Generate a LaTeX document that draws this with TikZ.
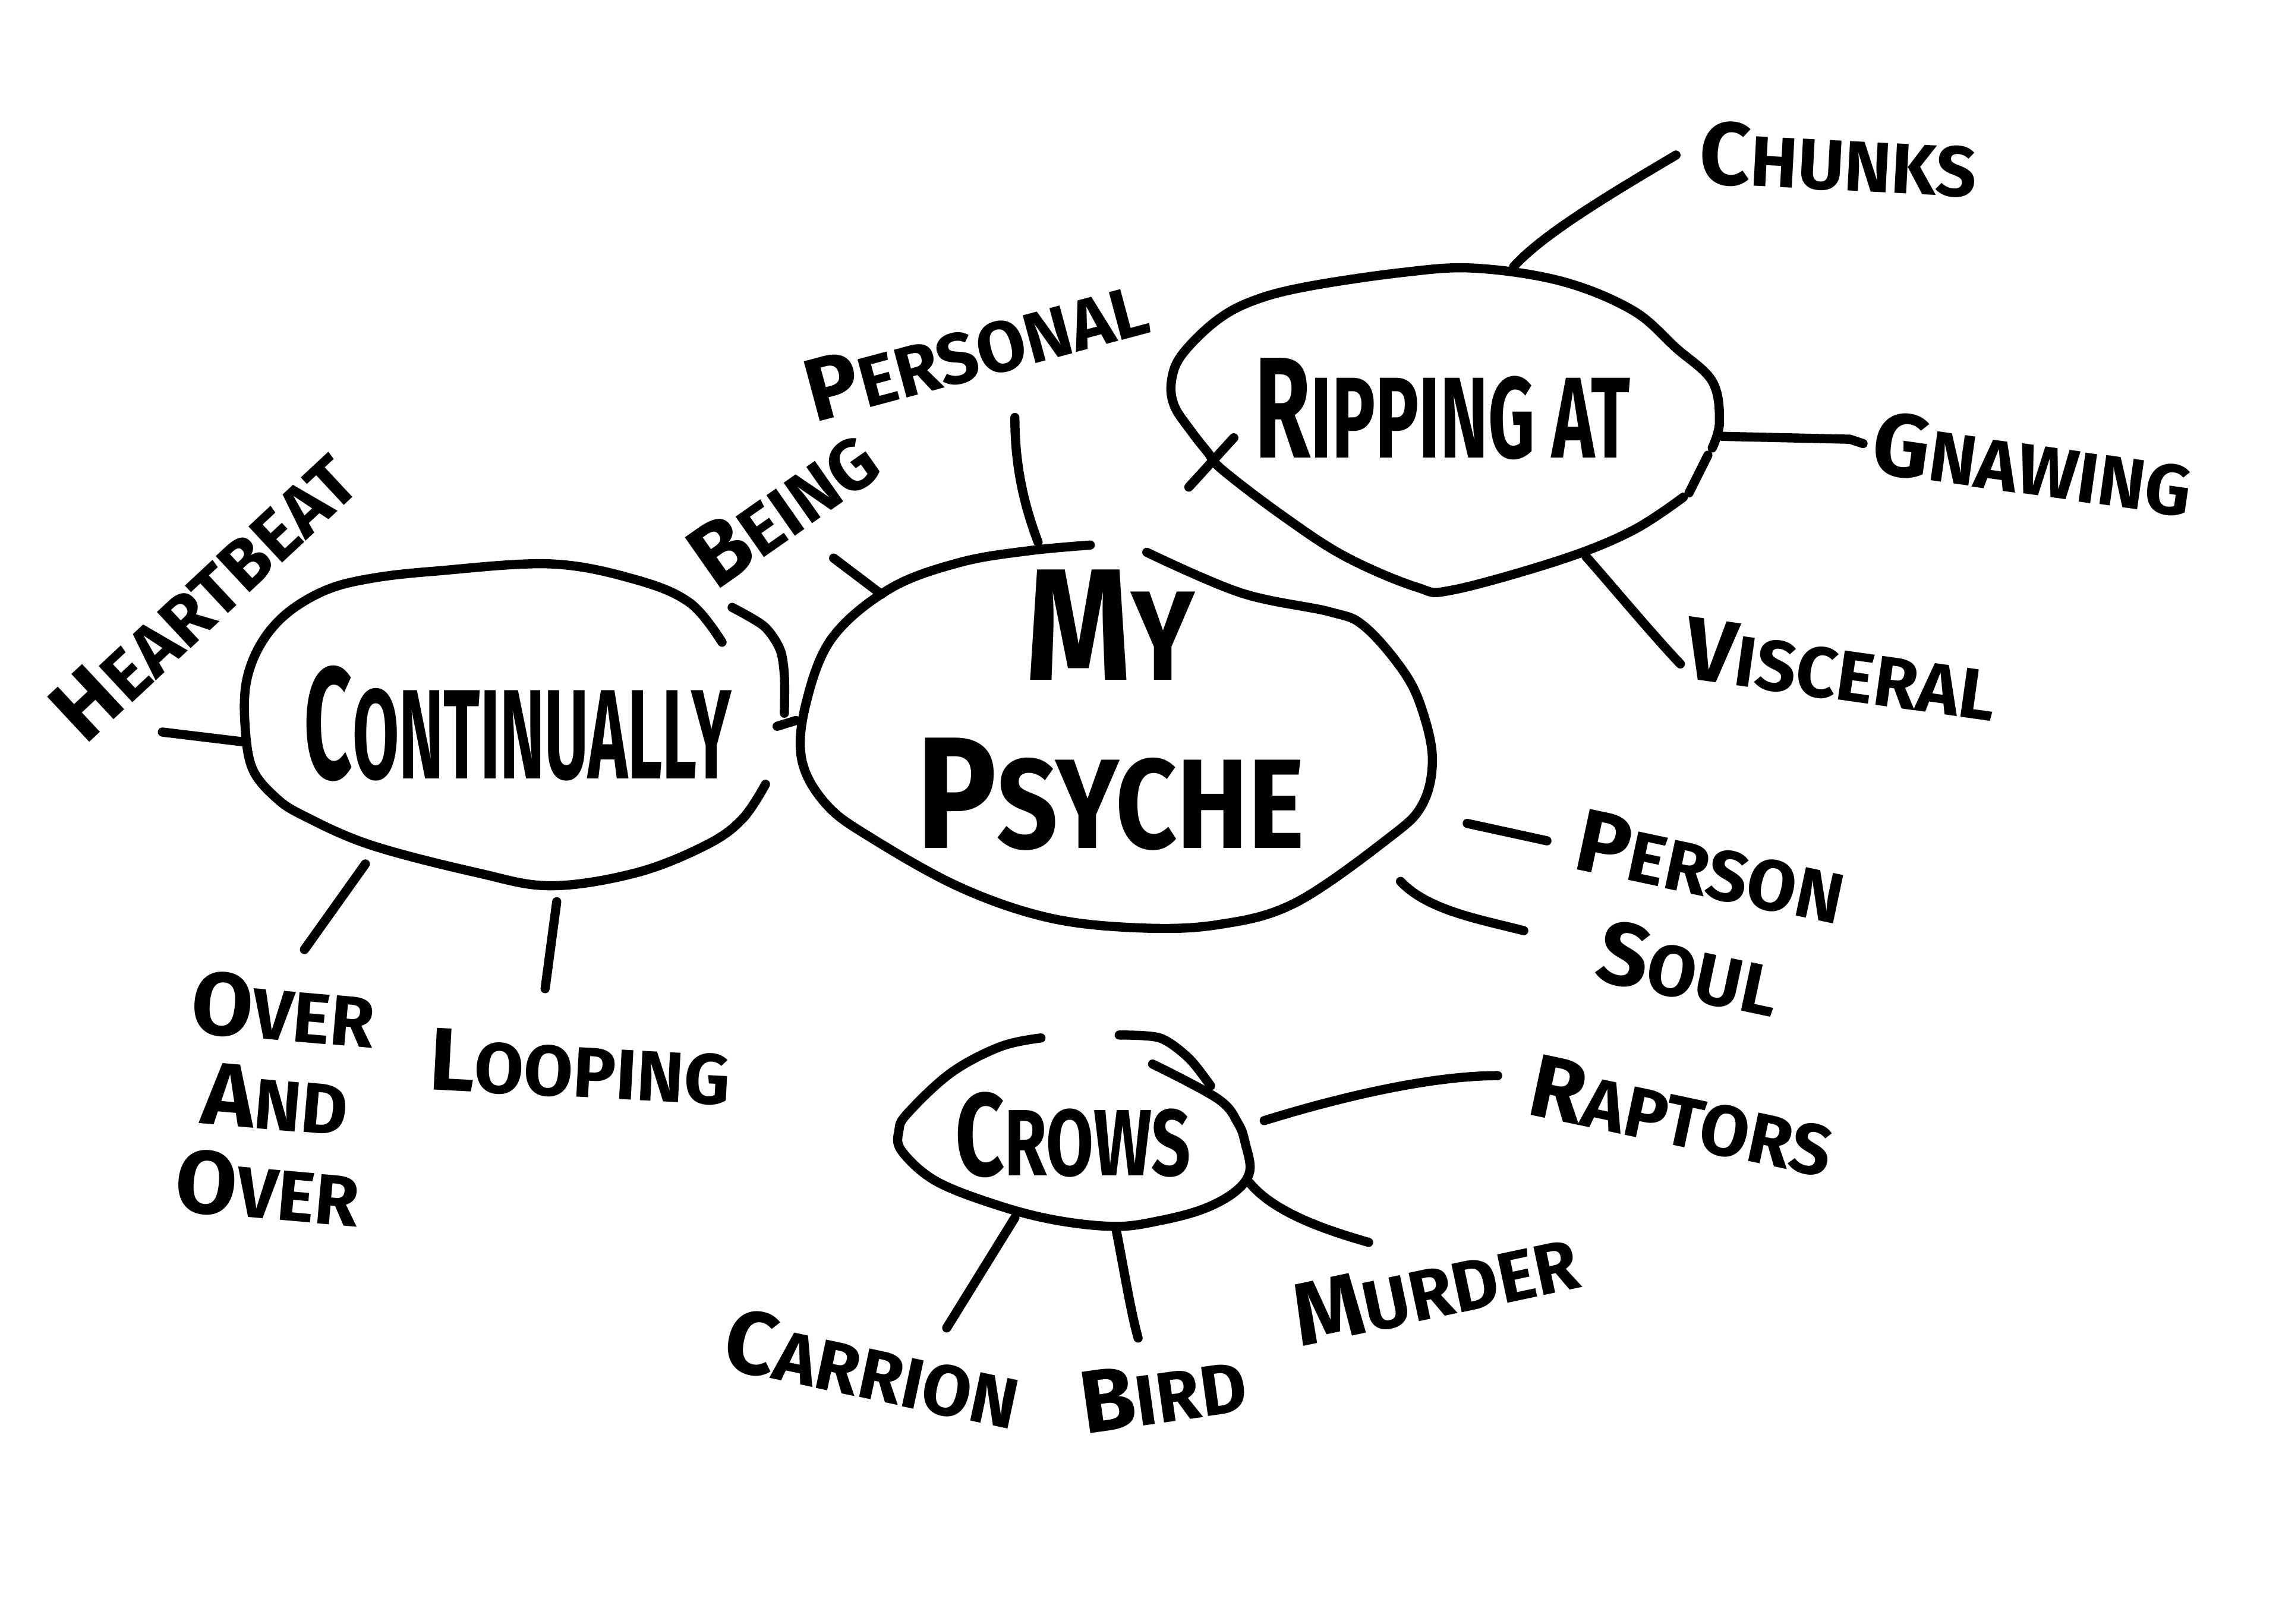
\documentclass[tikz,border=0pt]{standalone}
\usepackage{fontspec}
\newfontfamily\handfont{Fira Sans}
\newcommand\hw[2]{\scalebox{1.25}{#1}#2}
\tikzset{
  ink/.style={line width=1.8pt, line cap=round, line join=round},
  hub/.style={font=\handfont\bfseries\fontsize{#1}{#1}\selectfont, align=center, inner sep=0pt},
  hub/.default=25pt,
  leaf/.style={font=\handfont\bfseries\fontsize{14}{17.6}\selectfont, align=center, inner sep=0pt},
}
\begin{document}
\begin{tikzpicture}[x=0.1mm,y=-0.1mm]
\useasboundingbox (0,0) rectangle (1574,1120);
% Continually
\draw[ink] plot[smooth, tension=0.6] coordinates {(498,443) (476,416) (439,400) (380,389) (300,394) (256,399) (225,407) (198,423) (180,444) (170,470) (169,500) (174,530) (190,550) (210,563) (256,583) (329,602) (380,611) (439,602) (487,583) (512,565) (528,541)};
\draw[ink] plot[smooth] coordinates {(505,419) (527,432) (538,448) (541,466) (541,492)};
\node[hub, xscale=0.53] (cont) at (357,499) {\hw{C}{ONTINUALLY}};
% My Psyche
\draw[ink] plot[smooth, tension=0.6] coordinates {(752,376) (709,380) (662,388) (614,406) (574,440) (556,485) (553,524) (570,555) (601,578) (662,612) (723,633) (784,640) (839,638) (893,623) (958,578) (981,555) (988,524) (981,490) (968,463) (941,432) (917,422) (856,409) (791,381)};
\node[hub, xscale=0.84] (psyche) at (766,490) {\hw{M}{Y}\\[8pt]\hw{P}{SYCHE}};
% Ripping at
\draw[ink] plot[smooth, tension=0.6] coordinates {(1181,309) (1186,291) (1181,263) (1156,240) (1126,214) (1077,194) (1017,185) (967,188) (900,198) (863,208) (838,222) (815,245) (808,263) (810,280) (822,298) (833,312) (843,324) (885,356) (928,384) (977,405) (1002,407) (1077,386) (1126,366) (1161,343)};
\draw[ink] (1178,314) -- (1165,340);
\draw[ink] (851,302) -- (820,336);
\node[hub=22.6pt, xscale=0.63] (ripping) at (995,282) {\hw{R}{IPPING AT}};
% Crows
\draw[ink] plot[smooth, tension=0.6] coordinates {(718,716) (690,722) (656,740) (626,768) (620,780) (622,794) (646,815) (690,832) (730,842) (770,846) (800,842) (830,834) (852,822) (862,808) (859,789) (854,775) (840,758) (795,734)};
\draw[ink] plot[smooth] coordinates {(772,714) (800,716) (820,730) (835,749)};
\node[hub=18.5pt, xscale=0.73] (crows) at (740,783) {\hw{C}{ROWS}};

% Leaves
\node[leaf, rotate=43] (heart) at (140,410) {\hw{H}{EARTBEAT}};
\node[leaf, rotate=-5] (over) at (190,758) {\hw{O}{VER}\\\hw{A}{ND}\\\hw{O}{VER}};
\node[leaf, rotate=-3] (loop) at (400,736) {\hw{L}{OOPING}};
\node[leaf, rotate=35] (being) at (540,350) {\hw{B}{EING}};
\node[leaf, rotate=15] (pers) at (673,240) {\hw{P}{ERSONAL}};
\node[leaf, rotate=-3] (chunks) at (1268,110) {\hw{C}{HUNKS}};
\node[leaf, rotate=-8] (gnaw) at (1402,320) {\hw{G}{NAWING}};
\node[leaf, rotate=-8] (visc) at (1270,462) {\hw{V}{ISCERAL}};
\node[leaf, rotate=-12] (person) at (1180,598) {\hw{P}{ERSON}};
\node[leaf, rotate=-12] (soul) at (1165,668) {\hw{S}{OUL}};
\node[leaf, rotate=-12] (rapt) at (1160,770) {\hw{R}{APTORS}};
\node[leaf, rotate=12] (murder) at (990,888) {\hw{M}{URDER}};
\node[leaf, rotate=-12] (carr) at (602,944) {\hw{C}{ARRION}};
\node[leaf, rotate=8] (bird) at (802,960) {\hw{B}{IRD}};

% Connector ends
\coordinate (cont-w) at (170,512);
\coordinate (heart-e) at (112,505);
\coordinate (cont-sw) at (252,596);
\coordinate (over-n) at (210,655);
\coordinate (cont-s) at (384,622);
\coordinate (loop-n) at (376,682);
\coordinate (cont-e) at (536,501);
\coordinate (psy-w) at (549,497);
\coordinate (psy-nw) at (608,410);
\coordinate (being-e) at (575,385);
\coordinate (psy-n) at (716,374);
\coordinate (pers-s) at (700,288);
\coordinate (rip-n) at (1044,184);
\coordinate (chunks-w) at (1156,107);
\coordinate (rip-e) at (1188,301);
\coordinate (gnaw-w) at (1285,306);
\coordinate (rip-se) at (1094,384);
\coordinate (visc-w) at (1159,458);
\coordinate (psy-e) at (1012,568);
\coordinate (person-w) at (1067,580);
\coordinate (psy-se) at (966,608);
\coordinate (soul-w) at (1051,642);
\coordinate (crows-e) at (872,773);
\coordinate (rapt-w) at (1033,742);
\coordinate (crows-se) at (862,816);
\coordinate (murder-n) at (944,857);
\coordinate (crows-s) at (770,849);
\coordinate (bird-n) at (785,923);
\coordinate (crows-sw) at (700,840);
\coordinate (carr-n) at (653,916);

% Connectors
\draw[ink] (cont-w) -- (heart-e);
\draw[ink] (cont-sw) -- (over-n);
\draw[ink] (cont-s) -- (loop-n);
\draw[ink] (cont-e) -- (psy-w);
\draw[ink] (psy-nw) -- (being-e);
\draw[ink] (psy-n) .. controls (705,345) and (700,318) .. (pers-s);
\draw[ink] (rip-n) .. controls (1062,164) and (1100,140) .. (chunks-w);
\draw[ink] (rip-e) -- (1276,303) -- (gnaw-w);
\draw[ink] (rip-se) .. controls (1110,402) and (1140,438) .. (visc-w);
\draw[ink] (psy-e) -- (person-w);
\draw[ink] (psy-se) .. controls (985,628) and (1020,634) .. (soul-w);
\draw[ink] (crows-e) .. controls (930,755) and (990,742) .. (rapt-w);
\draw[ink] (crows-se) .. controls (880,838) and (920,850) .. (murder-n);
\draw[ink] (crows-s) .. controls (776,880) and (780,905) .. (bird-n);
\draw[ink] (crows-sw) -- (carr-n);
\end{tikzpicture}
\end{document}
